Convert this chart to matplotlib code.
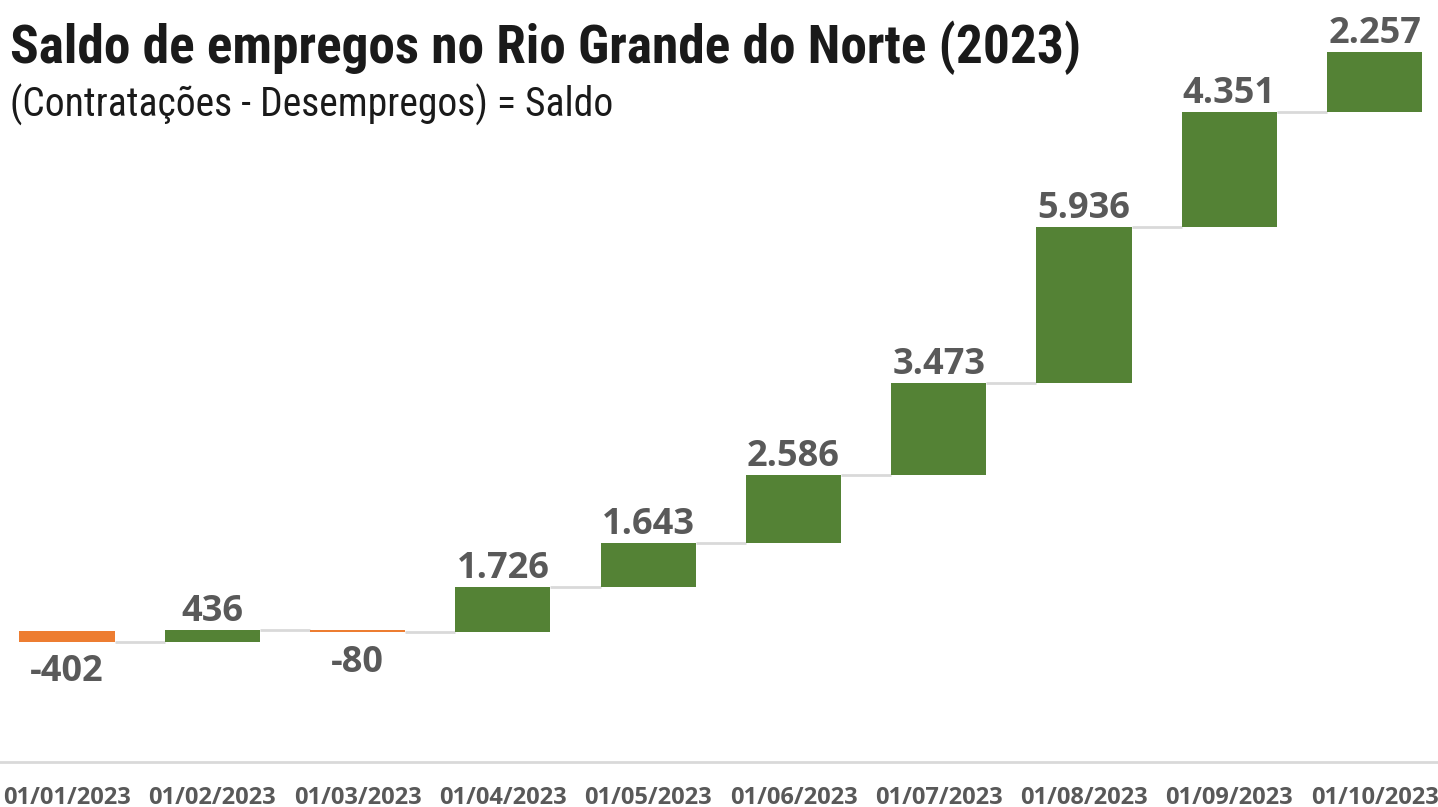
import matplotlib
matplotlib.use("Agg")
import matplotlib.pyplot as plt
import numpy as np

categories = ["01/01/2023", "01/02/2023", "01/03/2023", "01/04/2023", "01/05/2023",
              "01/06/2023", "01/07/2023", "01/08/2023", "01/09/2023", "01/10/2023"]
values = [-402, 436, -80, 1726, 1643, 2586, 3473, 5936, 4351, 2257]

title = "Saldo de empregos no Rio Grande do Norte (2023)"
subtitle = "(Contratações - Desempregos) = Saldo"

narrow = ["Roboto Condensed", "Liberation Sans Narrow", "Roboto", "DejaVu Sans"]
label_font = "Open Sans"

GREEN = "#548235"
ORANGE = "#ED7D31"
GRAY_TXT = "#595959"

fig = plt.figure(figsize=(14.38, 8.07), dpi=100)
ax = fig.add_axes([0, 45/807, 1, 762/807])

vals = np.array(values, dtype=float)
ends = np.cumsum(vals)
starts = ends - vals
x = np.arange(len(vals))
w = 0.655
colors = [GREEN if v >= 0 else ORANGE for v in vals]

ax.bar(x, vals, bottom=starts, width=w, color=colors, zorder=3)

for i in range(len(vals) - 1):
    ax.plot([x[i] + w/2, x[i+1] - w/2], [ends[i], ends[i]], color="#D9D9D9", lw=2, zorder=2,
            solid_capstyle="butt")

def fmt(v):
    s = f"{abs(int(v)):,}".replace(",", ".")
    return ("-" if v < 0 else "") + s

for i, v in enumerate(vals):
    top = max(starts[i], ends[i])
    bot = min(starts[i], ends[i])
    if v >= 0:
        ax.annotate(fmt(v), (x[i], top), xytext=(0, 0), textcoords="offset points",
                    ha="center", va="bottom", fontsize=26, fontweight="bold",
                    family=label_font, color=GRAY_TXT)
    else:
        ax.annotate(fmt(v), (x[i], bot), xytext=(0, -9), textcoords="offset points",
                    ha="center", va="top", fontsize=26, fontweight="bold",
                    family=label_font, color=GRAY_TXT)

ax.set_xlim(-0.461, 9.436)
ax.set_ylim(-4961, 23896)
ax.set_xticks(x)
ax.set_xticklabels(categories, fontsize=17, fontweight="bold", family=label_font, color=GRAY_TXT)
ax.tick_params(axis="x", length=0, pad=17)
ax.set_yticks([])
for s in ["top", "right", "left"]:
    ax.spines[s].set_visible(False)
ax.spines["bottom"].set_color("#D9D9D9")
ax.spines["bottom"].set_linewidth(2)

t1 = fig.text(10/1438, 1 - 48/807, title, fontsize=38, fontweight="bold", family=narrow,
              color="#1a1a1a", ha="left", va="center")
t2 = fig.text(10/1438, 1 - 105/807, subtitle, fontsize=34, family=narrow,
              color="#1a1a1a", ha="left", va="center")

# fit text widths to the reference extents
fig.canvas.draw()
r = fig.canvas.get_renderer()
for t, target in ((t1, 1073), (t2, 605)):
    wpx = t.get_window_extent(r).width
    t.set_fontsize(t.get_fontsize() * target / wpx)

fig.savefig("out.png", dpi=100)
